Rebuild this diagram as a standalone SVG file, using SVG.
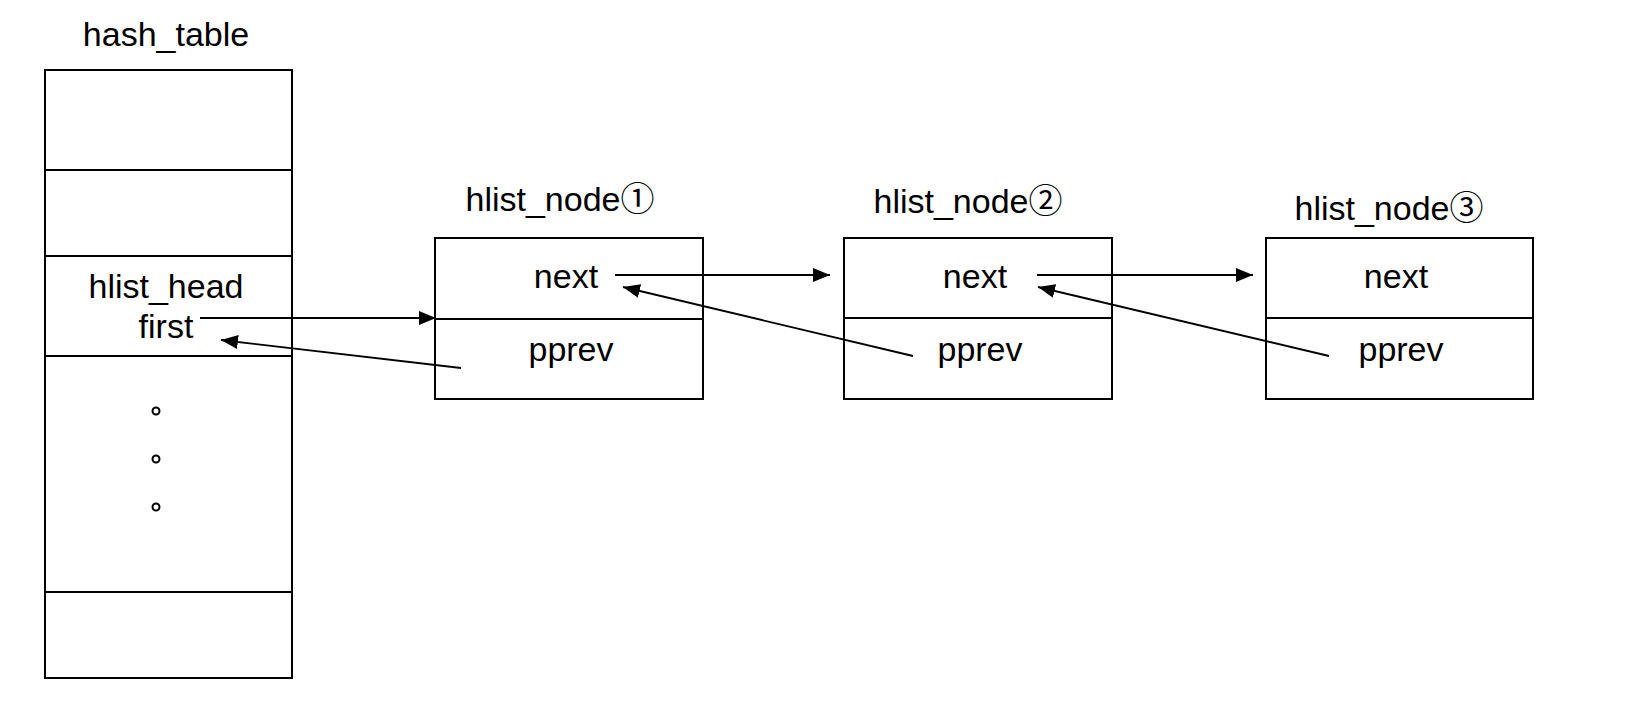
<svg xmlns="http://www.w3.org/2000/svg" width="1642" height="712" viewBox="0 0 1642 712">
<style>
.box{fill:#fff;stroke:#000;stroke-width:2}
.div{stroke:#000;stroke-width:2}
.t{font-family:"Liberation Sans","Noto Sans CJK SC",sans-serif;font-size:34px;fill:#000;text-anchor:middle}
.c{stroke:#000;stroke-width:1.8;fill:none;marker-end:url(#ah)}
.dot{fill:#fff;stroke:#000;stroke-width:2}
</style>
<defs>
<marker id="ah" markerUnits="userSpaceOnUse" markerWidth="18" markerHeight="14" refX="17" refY="7" orient="auto">
<path d="M0,0 L17,7 L0,14 z" fill="#000"/>
</marker>
</defs>
<rect width="1642" height="712" fill="#fff"/>
<g id="hash_table">
<text class="t" x="166" y="46">hash_table</text>
<rect class="box" x="45" y="70" width="247" height="608"/>
<line class="div" x1="45" y1="170" x2="292" y2="170"/>
<line class="div" x1="45" y1="256" x2="292" y2="256"/>
<line class="div" x1="45" y1="356" x2="292" y2="356"/>
<line class="div" x1="45" y1="592" x2="292" y2="592"/>
<text class="t" x="166" y="298">hlist_head</text>
<text class="t" x="166" y="338">first</text>
<circle class="dot" cx="156" cy="411" r="3.5"/>
<circle class="dot" cx="156" cy="459" r="3.5"/>
<circle class="dot" cx="156" cy="507" r="3.5"/>
</g>
<g id="node1">
<text class="t" x="560" y="211">hlist_node①</text>
<rect class="box" x="435" y="238" width="268" height="161"/>
<line class="div" x1="435" y1="319" x2="703" y2="319"/>
<text class="t" x="566" y="288">next</text>
<text class="t" x="571" y="361">pprev</text>
</g>
<g id="node2">
<text class="t" x="968" y="213">hlist_node②</text>
<rect class="box" x="844" y="238" width="268" height="161"/>
<line class="div" x1="844" y1="318" x2="1112" y2="318"/>
<text class="t" x="975" y="288">next</text>
<text class="t" x="980" y="361">pprev</text>
</g>
<g id="node3">
<text class="t" x="1389" y="220">hlist_node③</text>
<rect class="box" x="1266" y="238" width="267" height="161"/>
<line class="div" x1="1266" y1="318" x2="1533" y2="318"/>
<text class="t" x="1396" y="288">next</text>
<text class="t" x="1401" y="361">pprev</text>
</g>
<g id="connectors">
<line class="c" x1="200" y1="318" x2="436" y2="318"/>
<line class="c" x1="461" y1="368" x2="221" y2="340"/>
<line class="c" x1="615" y1="275" x2="830" y2="275"/>
<line class="c" x1="913" y1="356" x2="623" y2="287"/>
<line class="c" x1="1037" y1="275" x2="1253" y2="275"/>
<line class="c" x1="1329" y1="356" x2="1038" y2="287"/>
</g>
</svg>
